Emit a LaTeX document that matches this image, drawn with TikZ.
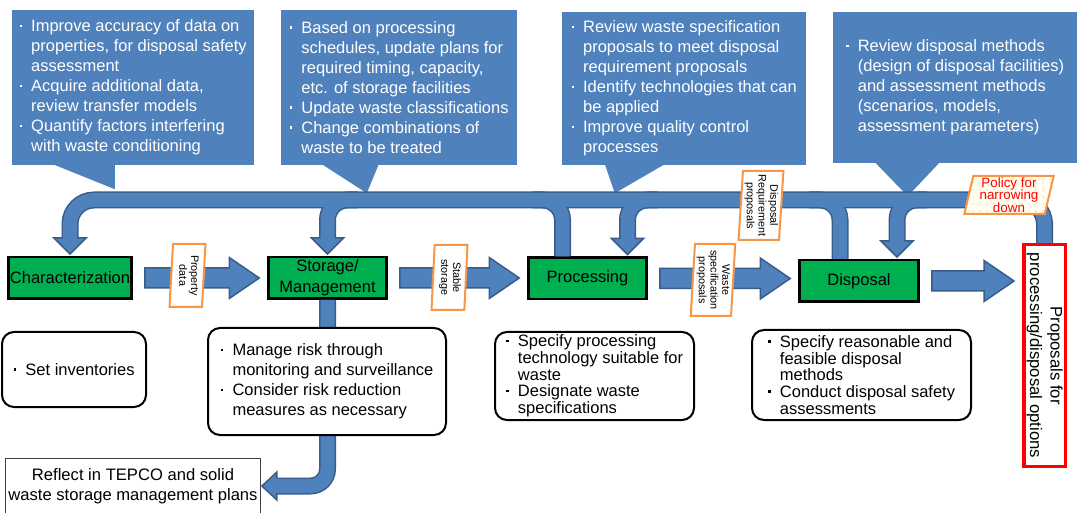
\documentclass[tikz,border=0pt]{standalone}
\usepackage{fontspec}
\setmainfont{Liberation Sans}
\usepackage{graphicx}
\usepackage{xcolor}
\usepackage{tikz}
\usetikzlibrary{shapes,arrows,positioning,calc,patterns.meta}

\definecolor{boxblue}{HTML}{4F81BD}
\definecolor{edgeblue}{HTML}{385D8A}
\definecolor{stepgreen}{HTML}{00B050}
\definecolor{tagorange}{HTML}{F79646}

% bullet lines
\newcommand{\itm}{\makebox[12pt][l]{\hspace{0.5pt}\raisebox{4.8pt}{\rule{2.4pt}{2.4pt}}}}
\newcommand{\bcont}{\hspace*{12pt}}
% text turned to run downwards
\newcommand{\vlabel}[1]{\rotatebox{-90}{\begin{tabular}{@{}c@{}}#1\end{tabular}}}

% all ribbon paths, drawn once as outline and once as core
\newcommand{\ribbons}[1]{%
  \draw[#1, rounded corners=24pt] (prop.north) -- (prop.north |- band) -- (char.north |- band) -- ([yshift=12pt]char.north);
  \draw[#1, rounded corners=20pt] ($(stor.north |- band)+(30,0)$) -- (stor.north |- band) -- ([yshift=12pt]stor.north);
  \draw[#1, rounded corners=20pt] ($(proc.north |- band)+(-55,0)$) -- ($(proc.north |- band)+(-25,0)$) -- ($(proc.north)+(-25,0)$);
  \draw[#1, rounded corners=20pt] ($(proc.north |- band)+(70,0)$) -- ($(proc.north |- band)+(40,0)$) -- ($(proc.north)+(40,12)$);
  \draw[#1, rounded corners=20pt] ($(disp.north |- band)+(-50,0)$) -- ($(disp.north |- band)+(-19,0)$) -- ($(disp.north)+(-19,0)$);
  \draw[#1, rounded corners=20pt] ($(disp.north |- band)+(68,0)$) -- ($(disp.north |- band)+(38,0)$) -- ($(disp.north)+(38,12)$);
  \draw[#1, rounded corners=17pt] (stor.south) -- (stor.south |- reflect.east) -- ([xshift=12pt]reflect.east);
}
% arrow head pointing down onto a node, #2 = x offset
\newcommand{\headdown}[2]{%
  \draw[headtip] ($(#1.north)+(#2-16,18)$) -- ($(#1.north)+(#2+16,18)$) -- ($(#1.north)+(#2,2)$) -- cycle;}
% block arrow between two nodes
\newcommand{\blockarrow}[2]{%
  \draw[headtip] let \p1=($(#1.east)+(12,0)$), \p2=($(#2.west)+(-8,0)$) in
    (\x1,\y1+10) -- (\x2-30,\y1+10) -- (\x2-30,\y1+20.5) -- (\x2,\y1) -- (\x2-30,\y1-20.5) -- (\x2-30,\y1-10) -- (\x1,\y1-10) -- cycle;}

\begin{document}
\begin{tikzpicture}[
    x=1pt, y=1pt,
    callout/.style={fill=boxblue, text=white, align=left, inner sep=0pt, font=\fontsize{16.5}{20}\selectfont},
    stepbox/.style={draw=black, line width=2.5pt, fill=stepgreen, minimum height=41.5pt, inner sep=1pt, align=center, font=\fontsize{16.5}{21}\selectfont},
    notebox/.style={draw=black, line width=2pt, rounded corners=12pt, fill=white, align=left, inner sep=1pt, font=\fontsize{16.5}{20}\selectfont},
    reflectbox/.style={draw=black!75, line width=0.8pt, fill=white, align=center, inner sep=1pt, font=\fontsize{16.6}{20.5}\selectfont},
    propbox/.style={draw=red, line width=3.5pt, fill=white, inner sep=0pt, font=\fontsize{16.7}{20.5}\selectfont},
    tagbox/.style={trapezium, trapezium left angle=86, trapezium right angle=94, trapezium stretches=true, draw=tagorange, line width=2pt, fill=white, inner sep=0.5pt, font=\fontsize{10.8}{11.7}\selectfont},
    policybox/.style={trapezium, trapezium left angle=78, trapezium right angle=102, trapezium stretches=true, draw=tagorange, line width=2pt, preaction={fill=yellow!6}, pattern={Dots[distance=7pt, radius=0.6pt]}, pattern color=tagorange!80, text=red, align=center, inner sep=0pt, font=\fontsize{13.4}{12.5}\selectfont},
    bandedge/.style={draw=edgeblue, line width=17pt},
    bandcore/.style={draw=boxblue, line width=14pt},
    headtip/.style={fill=boxblue, draw=edgeblue, line width=1.5pt}
]
    \useasboundingbox (0,0) rectangle (1077,512);
    \coordinate (band) at (0,312);

    % Callouts
    \node[callout, minimum width=242pt, minimum height=155pt] (c1) at (133,424.5) {\itm Improve accuracy of data on\\ \bcont properties, for disposal safety\\ \bcont assessment\\ \itm Acquire additional data,\\ \bcont review transfer models\\ \itm Quantify factors interfering\\ \bcont with waste conditioning};
    \fill[boxblue] ($(c1.south west)+(41,1)$) -- ($(c1.south west)+(103,1)$) -- ($(c1.south west)+(103,-24)$) -- cycle;
    \node[callout, minimum width=236pt, minimum height=155pt] (c2) at (399,424.5) {\itm Based on processing\\ \bcont schedules, update plans for\\ \bcont required timing, capacity,\\ \bcont etc. of storage facilities\\ \itm Update waste classifications\\ \itm Change combinations of\\ \bcont waste to be treated};
    \fill[boxblue] ($(c2.south west)+(41,1)$) -- ($(c2.south west)+(98,1)$) -- ($(c2.south west)+(86,-28)$) -- cycle;
    \node[callout, minimum width=244pt, minimum height=153pt] (c3) at (684,423.5) {\itm Review waste specification\\ \bcont proposals to meet disposal\\ \bcont requirement proposals\\ \itm Identify technologies that can\\ \bcont be applied\\ \itm Improve quality control\\ \bcont processes};
    \fill[boxblue] ($(c3.south west)+(43,1)$) -- ($(c3.south west)+(103,1)$) -- ($(c3.south west)+(53,-28)$) -- cycle;
    \node[callout, minimum width=244pt, minimum height=151pt] (c4) at (955,424.5) {\itm Review disposal methods\\ \bcont (design of disposal facilities)\\ \bcont and assessment methods\\ \bcont (scenarios, models,\\ \bcont assessment parameters)};
    \fill[boxblue] ($(c4.south west)+(42,1)$) -- ($(c4.south west)+(107,1)$) -- ($(c4.south west)+(75,-33)$) -- cycle;

    % Steps
    \node[stepbox, minimum width=123pt] (char) at (70,234) {Characterization};
    \node[stepbox, minimum width=118pt] (stor) at (327.5,234) {Storage/\\Management};
    \node[stepbox, minimum width=118pt] (proc) at (587.5,233.5) {Processing};
    \node[stepbox, minimum width=119pt] (disp) at (859,231) {Disposal};
    \node[propbox, minimum width=41.5pt, minimum height=221.5pt] (prop) at (1044.5,156.5) {\vlabel{Proposals for\\processing/disposal options}};
    \node[reflectbox, minimum width=255pt, minimum height=55pt] (reflect) at (133,26) {Reflect in TEPCO and solid\\waste storage management plans};

    % Feedback ribbons
    \ribbons{bandedge}
    \headdown{char}{0}
    \headdown{stor}{0}
    \headdown{proc}{40}
    \headdown{disp}{38}
    \draw[headtip] ($(reflect.east)+(16,14)$) -- ($(reflect.east)+(16,-14)$) -- ($(reflect.east)+(1,0)$) -- cycle;
    \ribbons{bandcore}

    % Main flow
    \blockarrow{char}{stor}
    \blockarrow{stor}{proc}
    \blockarrow{proc}{disp}
    \blockarrow{disp}{prop}

    % Notes under the steps
    \node[notebox, minimum width=144pt, minimum height=75pt] (setinv) at (74,142.5) {\itm Set inventories};
    \node[notebox, minimum width=238pt, minimum height=107pt] (stornote) at (327,130.5) {\itm Manage risk through\\ \bcont monitoring and surveillance\\ \itm Consider risk reduction\\ \bcont measures as necessary};
    \node[notebox, minimum width=199pt, minimum height=88pt, font=\fontsize{16.5}{16.7}\selectfont] (procnote) at (594.5,136) {\itm Specify processing\\ \bcont technology suitable for\\ \bcont waste\\ \itm Designate waste\\ \bcont specifications};
    \node[notebox, minimum width=219pt, minimum height=90pt, font=\fontsize{16.5}{16.7}\selectfont] (dispnote) at (861.5,137) {\itm Specify reasonable and\\ \bcont feasible disposal\\ \bcont methods\\ \itm Conduct disposal safety\\ \bcont assessments};

    % Labels on the arrows
    \node[tagbox, minimum width=36pt, minimum height=63pt] (propdata) at (187.5,236.5) {\vlabel{Property\\data}};
    \node[tagbox, minimum width=36pt, minimum height=65pt] (stable) at (449.5,234.5) {\vlabel{Stable\\storage}};
    \node[tagbox, minimum width=35pt, minimum height=72pt] (wastespec) at (713,232) {\vlabel{Waste\\specification\\proposals}};
    \node[tagbox, minimum width=36pt, minimum height=69pt] (dispreq) at (761,306.5) {\vlabel{Disposal\\Requirement\\proposals}};
    \node[policybox, minimum width=90pt, minimum height=38pt] (policy) at (1009,317) {Policy for\\narrowing\\down};
\end{tikzpicture}
\end{document}
